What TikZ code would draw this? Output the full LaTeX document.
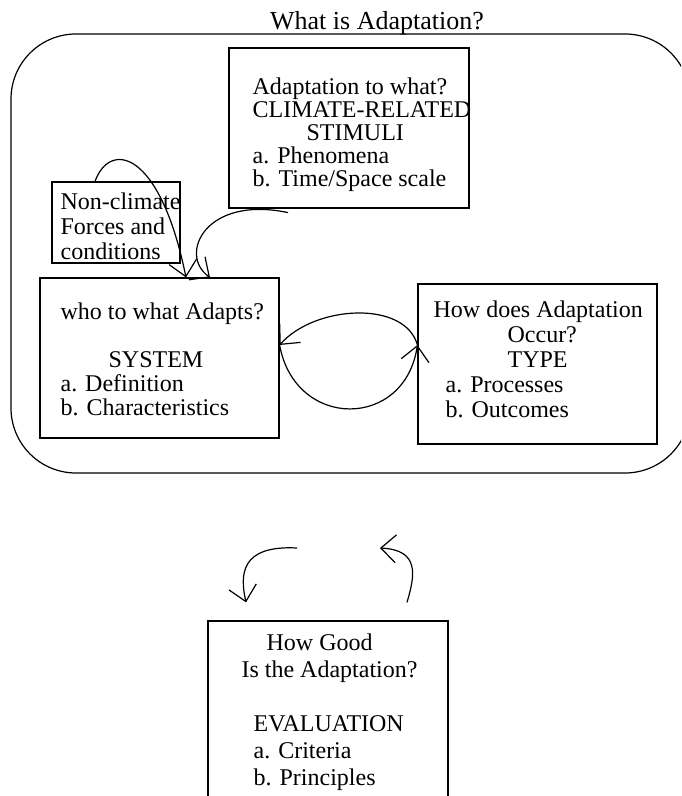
\documentclass[tikz,border=0pt]{standalone}
\usepackage{fontspec}
\setmainfont{Liberation Serif}
\usetikzlibrary{arrows.meta}

\begin{document}
\begin{tikzpicture}[x=0.5pt, y=-0.5pt, line width=0.6pt,
	box/.style={draw, rectangle, inner sep=0pt},
	txt/.style={anchor=base west, align=left, inner sep=0pt, font=\fontsize{12}{12}\selectfont},
	barb/.style={arrows={-{Straight Barb[length=7.5pt,width=14pt]}}}]
	\path [use as bounding box] (0,0) rectangle (681,796);
	\clip (0,0) rectangle (681,796);
	% outer frame
	\node [anchor=base, inner sep=0pt, font=\fontsize{13}{13}\selectfont] (title) at (377,30) {What is Adaptation?};
	\draw [rounded corners=32.5pt] (11,34) rectangle (690,473);
	% boxes and their texts (anchored at the last line)
	\node [box, minimum width=120pt, minimum height=80pt] (stimuli) at (349,128) {};
	\node [txt, font=\fontsize{12}{11.5}\selectfont] (stimulitext) at (252,187) {Adaptation to what?\\CLIMATE-RELATED\\\hspace*{27pt}STIMULI\\a. Phenomena\\b. Time/Space scale};
	\node [box, minimum width=64pt, minimum height=40.5pt] (nonclimate) at (116,222.5) {};
	\node [txt, font=\fontsize{12}{12.5}\selectfont] (nonclimatetext) at (60,260) {Non-climate\\Forces and\\conditions};
	\node [box, minimum width=119.5pt, minimum height=80pt] (system) at (159.5,358) {};
	\node [txt] (systemtext) at (60,415) {who to what Adapts?\\[12pt]\hspace*{24pt}SYSTEM\\a. Definition\\b. Characteristics};
	\node [box, minimum width=119.5pt, minimum height=80pt] (type) at (537.5,364) {};
	\node [txt, font=\fontsize{12}{12.5}\selectfont] (typetext) at (433,417) {How does Adaptation\\\hspace*{37pt}Occur?\\\hspace*{37pt}TYPE\\\hspace*{6pt}a. Processes\\\hspace*{6pt}b. Outcomes};
	\node [box, minimum width=120pt, minimum height=99.5pt] (evaluation) at (328,720.5) {};
	\node [txt, font=\fontsize{12}{13.5}\selectfont] (evaluationtext) at (241,785) {\hspace*{12.5pt}How Good\\Is the Adaptation?\\[13.5pt]\hspace*{6pt}EVALUATION\\\hspace*{6pt}a. Criteria\\\hspace*{6pt}b. Principles};
	% connectors
	\draw [barb] ([xshift=-10.5pt]nonclimate.north) .. controls (110,140) and (160,150) .. ([xshift=13.25pt]system.north);
	\draw [barb] ([xshift=-30.5pt,yshift=-2pt]stimuli.south) .. controls (205,195) and (178,255) .. ([xshift=25.25pt]system.north);
	\draw [barb] ([yshift=9.5pt]type.west) .. controls (405,300) and (315,305) .. ([yshift=6.5pt]system.east);
	\draw [barb] ([yshift=6.5pt]system.east) .. controls (295,430) and (405,430) .. ([yshift=9.5pt]type.west);
	\coordinate (loopleft) at (297,548);
	\coordinate (loopright) at (380,548);
	\draw [barb] (loopleft) .. controls (240,545) and (240,575) .. ([xshift=-41pt,yshift=9pt]evaluation.north);
	\draw [barb] ([xshift=39.5pt,yshift=9pt]evaluation.north) .. controls (415,575) and (420,550) .. (loopright);
\end{tikzpicture}
\end{document}
